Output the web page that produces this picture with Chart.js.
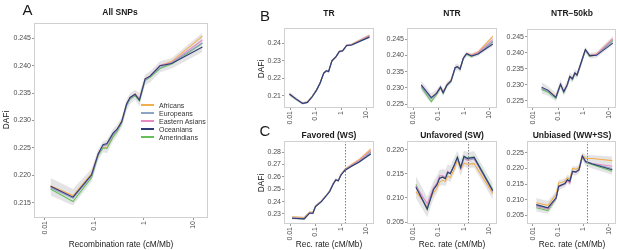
<!DOCTYPE html>
<html>
<head>
<meta charset="utf-8"/>
<style>
  html,body{margin:0;padding:0;background:#fff;}
  body{position:relative;width:617px;height:250px;overflow:hidden;font-family:"Liberation Sans",Arial,sans-serif;}
  .box{position:absolute;}
  .lab{position:absolute;white-space:nowrap;transform:translate(-50%,-50%);color:#1a1a1a;line-height:1;}
  .ttl{font-weight:bold;font-size:8.5px;}
  .axt{font-size:8.3px;}
  .let{font-size:15px;}
  .rot{transform:translate(-50%,-50%) rotate(-90deg);}
  .leg{position:absolute;font-size:7px;color:#333;line-height:1;white-space:nowrap;transform:translateY(-50%);}
  .sw{position:absolute;height:2px;width:13px;}
</style>
</head>
<body>
<script src="https://cdn.jsdelivr.net/npm/chart.js@4.4.0/dist/chart.umd.min.js"></script>
<script>
Chart.defaults.font.family = '"Liberation Sans", Arial, sans-serif';

const pops      = ["Africans", "Europeans", "Eastern Asians", "Oceanians", "Amerindians"];
const colors    = ["#F2B04C", "#8DA4C6", "#E78AC3", "#2F3B73", "#66C05A"];
const drawOrder = [5, 2, 3, 1, 4];

const xTicks      = [0.01, 0.1, 1, 10];
const xTickLabels = ["0.01", "0.1", "1", "10"];
const cutoff      = 1.45; // dotted line, panel C

// A - All SNPs
const xA   = [0.013, 0.037, 0.088, 0.12, 0.15, 0.18, 0.24, 0.29, 0.36, 0.45, 0.53, 0.67, 0.82, 1.07, 1.35, 2.15, 3.7, 15.5];
const aAfr = [0.2181, 0.2163, 0.2203, 0.2240, 0.2252, 0.2250, 0.2272, 0.2285, 0.2300, 0.2330, 0.2342, 0.2349, 0.2340, 0.2376, 0.2380, 0.2400, 0.2408, 0.2454];
const aEur = [0.2177, 0.2158, 0.2199, 0.2238, 0.2254, 0.2256, 0.2274, 0.2282, 0.2297, 0.2328, 0.2340, 0.2347, 0.2338, 0.2374, 0.2381, 0.2397, 0.2405, 0.2442];
const aEas = [0.2179, 0.2160, 0.2200, 0.2240, 0.2254, 0.2255, 0.2276, 0.2283, 0.2298, 0.2329, 0.2341, 0.2348, 0.2339, 0.2375, 0.2382, 0.2401, 0.2406, 0.2447];
const aOce = [0.2180, 0.2160, 0.2201, 0.2239, 0.2256, 0.2258, 0.2277, 0.2284, 0.2298, 0.2330, 0.2342, 0.2348, 0.2337, 0.2376, 0.2381, 0.2400, 0.2404, 0.2434];
const aAme = [0.2175, 0.2152, 0.2196, 0.2236, 0.2250, 0.2249, 0.2270, 0.2280, 0.2295, 0.2327, 0.2339, 0.2345, 0.2336, 0.2373, 0.2379, 0.2395, 0.2403, 0.2441];
const aHi  = [0.2195, 0.2175, 0.2212, 0.2248, 0.2262, 0.2265, 0.2285, 0.2292, 0.2306, 0.2338, 0.2350, 0.2356, 0.2350, 0.2384, 0.2390, 0.2408, 0.2414, 0.2460];
const aLo  = [0.2163, 0.2145, 0.2188, 0.2228, 0.2242, 0.2240, 0.2262, 0.2272, 0.2288, 0.2318, 0.2330, 0.2338, 0.2326, 0.2365, 0.2370, 0.2388, 0.2395, 0.2425];

// B - TR
const xTR   = [0.0095, 0.017, 0.031, 0.048, 0.074, 0.11, 0.15, 0.21, 0.265, 0.325, 0.44, 0.64, 0.86, 1.16, 1.66, 2.6, 13];
const trAfr = [0.2110, 0.2083, 0.2058, 0.2065, 0.2097, 0.2134, 0.2172, 0.2230, 0.2243, 0.2239, 0.2300, 0.2324, 0.2353, 0.2357, 0.2388, 0.2393, 0.2445];
const trEur = [0.2108, 0.2081, 0.2056, 0.2062, 0.2094, 0.2132, 0.2170, 0.2228, 0.2241, 0.2237, 0.2298, 0.2322, 0.2351, 0.2355, 0.2385, 0.2389, 0.2436];
const trEas = [0.2109, 0.2082, 0.2057, 0.2063, 0.2095, 0.2133, 0.2171, 0.2229, 0.2242, 0.2238, 0.2299, 0.2323, 0.2352, 0.2356, 0.2387, 0.2391, 0.2443];
const trOce = [0.2110, 0.2082, 0.2056, 0.2062, 0.2094, 0.2132, 0.2171, 0.2229, 0.2242, 0.2238, 0.2299, 0.2323, 0.2352, 0.2356, 0.2386, 0.2389, 0.2434];
const trAme = [0.2107, 0.2080, 0.2055, 0.2062, 0.2095, 0.2133, 0.2170, 0.2228, 0.2241, 0.2237, 0.2298, 0.2322, 0.2351, 0.2355, 0.2385, 0.2390, 0.2437];
const trHi  = [0.2122, 0.2093, 0.2066, 0.2071, 0.2103, 0.2141, 0.2179, 0.2237, 0.2250, 0.2246, 0.2307, 0.2331, 0.2359, 0.2363, 0.2394, 0.2398, 0.2452];
const trLo  = [0.2097, 0.2071, 0.2048, 0.2055, 0.2087, 0.2125, 0.2163, 0.2221, 0.2234, 0.2230, 0.2291, 0.2315, 0.2345, 0.2349, 0.2379, 0.2383, 0.2427];

// B - NTR
const xNTR   = [0.021, 0.052, 0.084, 0.12, 0.152, 0.215, 0.31, 0.45, 0.55, 0.70, 0.94, 1.26, 1.98, 3.56, 13.5];
const ntrAfr = [0.2305, 0.2270, 0.2285, 0.2303, 0.2287, 0.2311, 0.2323, 0.2363, 0.2366, 0.2359, 0.2392, 0.2406, 0.2402, 0.2410, 0.2458];
const ntrEur = [0.2304, 0.2266, 0.2282, 0.2301, 0.2284, 0.2308, 0.2320, 0.2361, 0.2364, 0.2357, 0.2390, 0.2404, 0.2398, 0.2405, 0.2441];
const ntrEas = [0.2307, 0.2269, 0.2284, 0.2302, 0.2286, 0.2309, 0.2321, 0.2362, 0.2365, 0.2358, 0.2391, 0.2405, 0.2400, 0.2408, 0.2448];
const ntrOce = [0.2309, 0.2270, 0.2283, 0.2302, 0.2285, 0.2309, 0.2321, 0.2362, 0.2365, 0.2358, 0.2391, 0.2405, 0.2398, 0.2404, 0.2435];
const ntrAme = [0.2302, 0.2258, 0.2280, 0.2300, 0.2283, 0.2307, 0.2320, 0.2361, 0.2364, 0.2356, 0.2390, 0.2403, 0.2396, 0.2405, 0.2443];
const ntrHi  = [0.2322, 0.2283, 0.2295, 0.2312, 0.2296, 0.2318, 0.2330, 0.2372, 0.2375, 0.2368, 0.2399, 0.2412, 0.2407, 0.2415, 0.2462];
const ntrLo  = [0.2290, 0.2252, 0.2271, 0.2292, 0.2275, 0.2300, 0.2312, 0.2352, 0.2355, 0.2348, 0.2383, 0.2397, 0.2391, 0.2398, 0.2428];

// B - NTR-50kb
const x50   = [0.022, 0.04, 0.081, 0.124, 0.167, 0.228, 0.29, 0.37, 0.46, 0.56, 0.76, 1.2, 1.78, 3.3, 14.7];
const n5Afr = [0.2290, 0.2283, 0.2263, 0.2303, 0.2280, 0.2301, 0.2327, 0.2320, 0.2338, 0.2332, 0.2363, 0.2408, 0.2392, 0.2396, 0.2444];
const n5Eur = [0.2289, 0.2280, 0.2260, 0.2301, 0.2278, 0.2299, 0.2325, 0.2318, 0.2336, 0.2330, 0.2361, 0.2409, 0.2390, 0.2392, 0.2436];
const n5Eas = [0.2291, 0.2282, 0.2262, 0.2302, 0.2279, 0.2300, 0.2326, 0.2319, 0.2337, 0.2331, 0.2362, 0.2409, 0.2391, 0.2395, 0.2443];
const n5Oce = [0.2293, 0.2283, 0.2261, 0.2302, 0.2279, 0.2300, 0.2326, 0.2319, 0.2337, 0.2331, 0.2362, 0.2410, 0.2391, 0.2392, 0.2430];
const n5Ame = [0.2286, 0.2277, 0.2257, 0.2300, 0.2276, 0.2298, 0.2324, 0.2316, 0.2335, 0.2329, 0.2360, 0.2407, 0.2389, 0.2393, 0.2440];
const n5Hi  = [0.2308, 0.2296, 0.2275, 0.2316, 0.2293, 0.2313, 0.2338, 0.2331, 0.2349, 0.2343, 0.2373, 0.2418, 0.2400, 0.2402, 0.2452];
const n5Lo  = [0.2274, 0.2266, 0.2248, 0.2289, 0.2266, 0.2287, 0.2314, 0.2307, 0.2325, 0.2319, 0.2351, 0.2399, 0.2382, 0.2384, 0.2425];

// C - Favored (WS)
const xFav   = [0.012, 0.036, 0.058, 0.079, 0.1, 0.17, 0.27, 0.36, 0.49, 0.63, 0.78, 1.0, 1.45, 2.7, 5, 14.7];
const favAfr = [0.2278, 0.2272, 0.2315, 0.2314, 0.2366, 0.2405, 0.2455, 0.2487, 0.2546, 0.2581, 0.2573, 0.2622, 0.2664, 0.2702, 0.2737, 0.2824];
const favEur = [0.2268, 0.2262, 0.2308, 0.2308, 0.2362, 0.2402, 0.2451, 0.2483, 0.2542, 0.2577, 0.2569, 0.2617, 0.2656, 0.2691, 0.2722, 0.2795];
const favEas = [0.2270, 0.2264, 0.2309, 0.2309, 0.2363, 0.2403, 0.2452, 0.2484, 0.2543, 0.2578, 0.2570, 0.2618, 0.2659, 0.2696, 0.2729, 0.2810];
const favOce = [0.2266, 0.2260, 0.2306, 0.2306, 0.2360, 0.2400, 0.2449, 0.2481, 0.2540, 0.2575, 0.2567, 0.2615, 0.2653, 0.2687, 0.2717, 0.2784];
const favAme = [0.2265, 0.2259, 0.2307, 0.2307, 0.2361, 0.2401, 0.2450, 0.2482, 0.2541, 0.2576, 0.2568, 0.2616, 0.2655, 0.2690, 0.2721, 0.2798];
const favHi  = [0.2285, 0.2279, 0.2322, 0.2321, 0.2373, 0.2412, 0.2461, 0.2494, 0.2553, 0.2588, 0.2580, 0.2628, 0.2670, 0.2709, 0.2745, 0.2832];
const favLo  = [0.2255, 0.2250, 0.2298, 0.2298, 0.2352, 0.2392, 0.2441, 0.2473, 0.2532, 0.2567, 0.2559, 0.2607, 0.2647, 0.2680, 0.2708, 0.2775];

// C - Unfavored (SW)
const xUnf   = [0.013, 0.036, 0.063, 0.086, 0.11, 0.148, 0.185, 0.23, 0.29, 0.40, 0.55, 0.74, 1.0, 1.36, 2.5, 13.5];
const unfAfr = [0.2113, 0.2082, 0.2110, 0.2120, 0.2133, 0.2137, 0.2134, 0.2146, 0.2142, 0.2158, 0.2178, 0.2159, 0.2172, 0.2170, 0.2171, 0.2109];
const unfEur = [0.2123, 0.2079, 0.2118, 0.2128, 0.2141, 0.2143, 0.2140, 0.2153, 0.2150, 0.2166, 0.2183, 0.2162, 0.2183, 0.2180, 0.2182, 0.2114];
const unfEas = [0.2125, 0.2088, 0.2121, 0.2131, 0.2146, 0.2146, 0.2143, 0.2155, 0.2151, 0.2167, 0.2182, 0.2161, 0.2182, 0.2178, 0.2181, 0.2113];
const unfOce = [0.2122, 0.2077, 0.2117, 0.2127, 0.2141, 0.2143, 0.2140, 0.2153, 0.2150, 0.2166, 0.2184, 0.2163, 0.2186, 0.2182, 0.2184, 0.2115];
const unfAme = [0.2128, 0.2075, 0.2119, 0.2129, 0.2142, 0.2144, 0.2141, 0.2154, 0.2151, 0.2167, 0.2185, 0.2164, 0.2187, 0.2183, 0.2185, 0.2117];
const unfHi  = [0.2145, 0.2102, 0.2135, 0.2145, 0.2158, 0.2160, 0.2158, 0.2170, 0.2167, 0.2182, 0.2198, 0.2180, 0.2198, 0.2195, 0.2197, 0.2130];
const unfLo  = [0.2100, 0.2060, 0.2098, 0.2110, 0.2125, 0.2127, 0.2124, 0.2136, 0.2133, 0.2150, 0.2168, 0.2146, 0.2165, 0.2162, 0.2163, 0.2097];

// C - Unbiased (WW+SS)
const xUnb   = [0.0135, 0.039, 0.083, 0.105, 0.142, 0.185, 0.235, 0.29, 0.37, 0.5, 0.67, 0.91, 1.24, 2.3, 14];
const unbAfr = [0.2090, 0.2082, 0.2117, 0.2154, 0.2155, 0.2160, 0.2170, 0.2166, 0.2200, 0.2197, 0.2203, 0.2242, 0.2232, 0.2232, 0.2225];
const unbEur = [0.2081, 0.2073, 0.2106, 0.2143, 0.2148, 0.2152, 0.2164, 0.2159, 0.2191, 0.2189, 0.2196, 0.2239, 0.2221, 0.2215, 0.2200];
const unbEas = [0.2078, 0.2070, 0.2104, 0.2141, 0.2146, 0.2150, 0.2162, 0.2152, 0.2189, 0.2187, 0.2194, 0.2238, 0.2220, 0.2216, 0.2207];
const unbOce = [0.2084, 0.2074, 0.2106, 0.2143, 0.2148, 0.2152, 0.2164, 0.2159, 0.2191, 0.2189, 0.2196, 0.2240, 0.2222, 0.2214, 0.2196];
const unbAme = [0.2074, 0.2065, 0.2103, 0.2140, 0.2146, 0.2150, 0.2162, 0.2157, 0.2189, 0.2187, 0.2194, 0.2237, 0.2219, 0.2212, 0.2191];
const unbHi  = [0.2105, 0.2096, 0.2128, 0.2163, 0.2165, 0.2169, 0.2180, 0.2176, 0.2208, 0.2206, 0.2212, 0.2252, 0.2243, 0.2242, 0.2238];
const unbLo  = [0.2062, 0.2055, 0.2093, 0.2130, 0.2136, 0.2140, 0.2152, 0.2146, 0.2180, 0.2177, 0.2185, 0.2228, 0.2208, 0.2200, 0.2180];

// y ticks per panel
const yTicksA   = [0.215, 0.22, 0.225, 0.23, 0.235, 0.24, 0.245];
const yTicksTR  = [0.21, 0.22, 0.23, 0.24];
const yTicksNTR = [0.225, 0.23, 0.235, 0.24, 0.245];
const yTicksFav = [0.23, 0.24, 0.25, 0.26, 0.27, 0.28];
const yTicksUnf = [0.205, 0.21, 0.215, 0.22];
const yTicksUnb = [0.205, 0.21, 0.215, 0.22, 0.225];

// L/R/T/B = plot area box in page pixels
const panels = [
  { x: xA,   ys: [aAfr, aEur, aEas, aOce, aAme],             hi: aHi,   lo: aLo,   yt: yTicksA,   dg: 3, yMin: 0.2122, yMax: 0.2478, xMin: 0.006,  xMax: 20.1, L: 34,  R: 208, T: 23,  B: 218, yw: 34 },
  { x: xTR,  ys: [trAfr, trEur, trEas, trOce, trAme],        hi: trHi,  lo: trLo,  yt: yTicksTR,  dg: 2, yMin: 0.2030, yMax: 0.2486, xMin: 0.0058, xMax: 19.7, L: 284, R: 374, T: 28,  B: 108, yw: 24 },
  { x: xNTR, ys: [ntrAfr, ntrEur, ntrEas, ntrOce, ntrAme],   hi: ntrHi, lo: ntrLo, yt: yTicksNTR, dg: 3, yMin: 0.2238, yMax: 0.2484, xMin: 0.0058, xMax: 19.7, L: 407, R: 497, T: 28,  B: 108, yw: 24 },
  { x: x50,  ys: [n5Afr, n5Eur, n5Eas, n5Oce, n5Ame],        hi: n5Hi,  lo: n5Lo,  yt: yTicksNTR, dg: 3, yMin: 0.2228, yMax: 0.2474, xMin: 0.0058, xMax: 19.7, L: 527, R: 616, T: 29,  B: 108, yw: 24 },
  { x: xFav, ys: [favAfr, favEur, favEas, favOce, favAme],   hi: favHi, lo: favLo, yt: yTicksFav, dg: 2, yMin: 0.2219, yMax: 0.2889, xMin: 0.0058, xMax: 19.7, L: 284, R: 374, T: 141, B: 224, yw: 24, cut: true },
  { x: xUnf, ys: [unfAfr, unfEur, unfEas, unfOce, unfAme],   hi: unfHi, lo: unfLo, yt: yTicksUnf, dg: 3, yMin: 0.2046, yMax: 0.2218, xMin: 0.0058, xMax: 19.7, L: 407, R: 497, T: 141, B: 224, yw: 24, cut: true },
  { x: xUnb, ys: [unbAfr, unbEur, unbEas, unbOce, unbAme],   hi: unbHi, lo: unbLo, yt: yTicksUnb, dg: 3, yMin: 0.2022, yMax: 0.2288, xMin: 0.0058, xMax: 19.7, L: 527, R: 616, T: 141, B: 224, yw: 24, cut: true },
];

const framePlugin = {
  id: "frame",
  afterDraw(c) {
    const a = c.chartArea, ctx = c.ctx;
    ctx.save();
    ctx.strokeStyle = "#d0d0d0";
    ctx.lineWidth = 1;
    ctx.strokeRect(Math.round(a.left) + 0.5, Math.round(a.top) + 0.5,
                   Math.round(a.right - a.left) - 1, Math.round(a.bottom - a.top) - 1);
    ctx.restore();
  }
};

const cutPlugin = {
  id: "cutline",
  afterDatasetsDraw(c) {
    const a = c.chartArea, ctx = c.ctx;
    const px = Math.round(c.scales.x.getPixelForValue(cutoff)) + 0.5;
    ctx.save();
    ctx.strokeStyle = "#808080";
    ctx.lineWidth = 1;
    ctx.setLineDash([1.5, 1.5]);
    ctx.beginPath(); ctx.moveTo(px, a.top); ctx.lineTo(px, a.bottom); ctx.stroke();
    ctx.restore();
  }
};

const pts = (xs, ys) => xs.map((x, i) => ({ x, y: ys[i] }));

function makePanel(p) {
  const padT = 6, padR = p.R > 610 ? 1 : 6, xh = 22;
  const w = p.yw + (p.R - p.L) + padR, h = padT + (p.B - p.T) + xh;
  const div = document.createElement("div");
  div.className = "box";
  div.style.left = (p.L - p.yw) + "px";
  div.style.top  = (p.T - padT) + "px";
  const cv = document.createElement("canvas");
  cv.width = w; cv.height = h;
  cv.style.width = w + "px"; cv.style.height = h + "px";
  div.appendChild(cv);
  document.body.appendChild(div);

  const datasets = [
    { data: pts(p.x, p.hi), fill: "+1", backgroundColor: "rgba(165,165,175,0.30)", borderWidth: 0, pointRadius: 0, order: 10 },
    { data: pts(p.x, p.lo), fill: false, borderWidth: 0, pointRadius: 0, order: 11 },
  ];
  p.ys.forEach((ys, k) => datasets.push({
    label: pops[k], data: pts(p.x, ys), borderColor: colors[k], borderWidth: 1.1,
    pointRadius: 0, fill: false, tension: 0, order: drawOrder[k]
  }));

  new Chart(cv, {
    type: "line",
    data: { datasets },
    plugins: p.cut ? [framePlugin, cutPlugin] : [framePlugin],
    options: {
      responsive: false, animation: false, devicePixelRatio: 1,
      layout: { padding: { top: padT, right: padR, left: 0, bottom: 0 } },
      plugins: { legend: { display: false }, tooltip: { enabled: false } },
      scales: {
        x: {
          type: "logarithmic", min: p.xMin, max: p.xMax,
          afterBuildTicks: s => { s.ticks = xTicks.map(v => ({ value: v })); },
          afterFit: s => { s.height = xh; s.paddingLeft = 0; s.paddingRight = 0; },
          ticks: { autoSkip: false, minRotation: 90, maxRotation: 90, padding: 1,
                   font: { size: 7 }, color: "#4d4d4d", callback: (v, i) => xTickLabels[i] },
          grid: { drawOnChartArea: false, tickLength: 2, color: "#999" },
          border: { display: false }
        },
        y: {
          min: p.yMin, max: p.yMax,
          afterBuildTicks: s => { s.ticks = p.yt.map(v => ({ value: v })); },
          afterFit: s => { s.width = p.yw; s.paddingTop = 0; s.paddingBottom = 0; },
          ticks: { padding: 1, font: { size: 7 }, color: "#4d4d4d",
                   callback: (v, i) => p.yt[i].toFixed(p.dg) },
          grid: { drawOnChartArea: false, tickLength: 2, color: "#999" },
          border: { display: false }
        }
      }
    }
  });
}

panels.forEach(makePanel);

// text
function lab(txt, x, y, cls) {
  const d = document.createElement("div");
  d.className = "lab " + cls;
  d.textContent = txt;
  d.style.left = x + "px"; d.style.top = y + "px";
  document.body.appendChild(d);
}
lab("A", 27.5, 9, "let");
lab("B", 265, 15, "let");
lab("C", 265, 130, "let");
lab("All SNPs", 120, 12, "ttl");
lab("TR", 329, 13, "ttl");
lab("NTR", 452, 13, "ttl");
lab("NTR\u221250kb", 572, 13, "ttl");
lab("Favored (WS)", 329, 135, "ttl");
lab("Unfavored (SW)", 452, 135, "ttl");
lab("Unbiased (WW+SS)", 572, 135, "ttl");
lab("DAFi", 6, 120, "axt rot");
lab("DAFi", 261, 69, "axt rot");
lab("DAFi", 261, 183, "axt rot");
lab("Recombination rate (cM/Mb)", 121, 244, "axt");
lab("Rec. rate (cM/Mb)", 329, 244, "axt");
lab("Rec. rate (cM/Mb)", 452, 244, "axt");
lab("Rec. rate (cM/Mb)", 572, 244, "axt");

// legend for panel A
pops.forEach((name, k) => {
  const y = Math.round(105 + k * 8.1);
  const sw = document.createElement("div");
  sw.className = "sw";
  sw.style.left = "141px"; sw.style.top = (y - 1) + "px"; sw.style.background = colors[k];
  document.body.appendChild(sw);
  const t = document.createElement("div");
  t.className = "leg";
  t.textContent = name;
  t.style.left = "159px"; t.style.top = y + "px";
  document.body.appendChild(t);
});
</script>
</body>
</html>
